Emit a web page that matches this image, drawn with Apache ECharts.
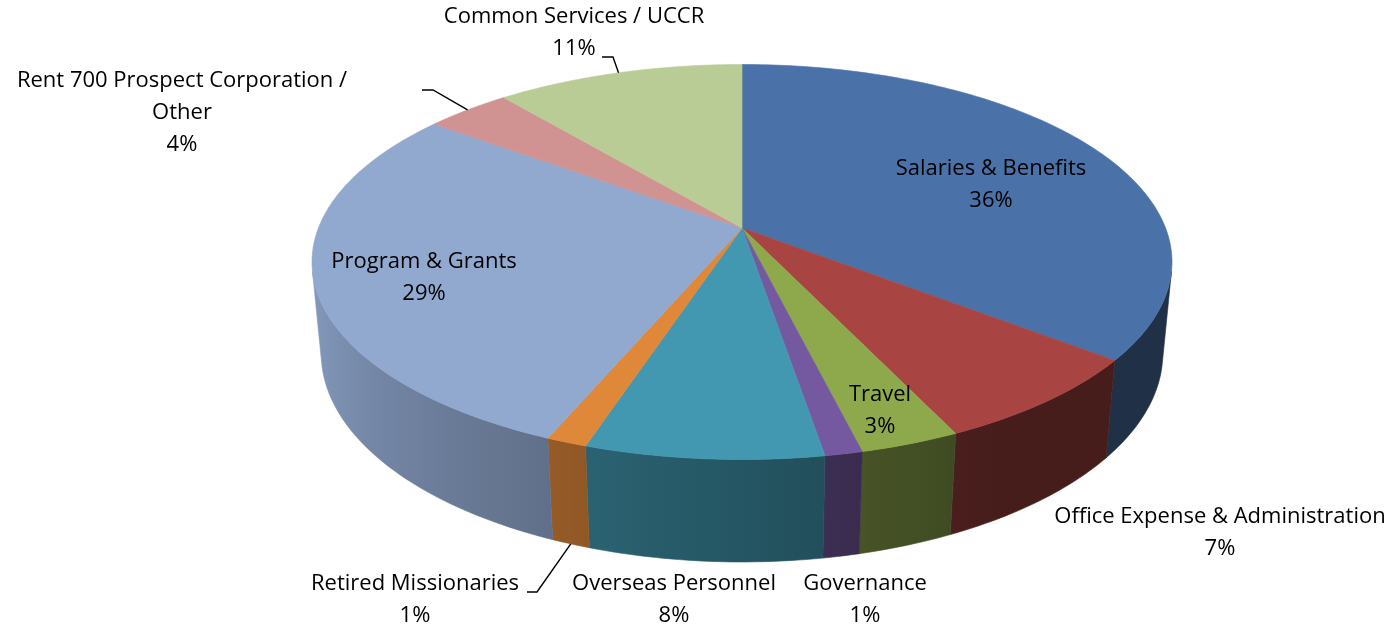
<!DOCTYPE html>
<html style="height: 100%">
<head>
<meta charset="utf-8">
<script src="https://cdn.jsdelivr.net/npm/echarts@6/dist/echarts.min.js"></script>
</head>
<body style="height: 100%; margin: 0; background: #fff">
<div id="container" style="width: 1395px; height: 631px"></div>
<script>
// data (percent of total)
var categories = ['Salaries & Benefits', 'Office Expense & Administration', 'Travel', 'Governance',
    'Overseas Personnel', 'Retired Missionaries', 'Program & Grants',
    'Rent 700 Prospect Corporation / Other', 'Common Services / UCCR'];
var values = [35.6, 7.4, 3.2, 1.2, 7.6, 1.3, 28.9, 3.8, 11.0];

var colors = ['#4a72a8', '#a84442', '#8ea84c', '#7559a0', '#4298b0', '#e0883a', '#91a8cf', '#d09392', '#bacc95'];

// label block centre, relative to pie centre; leader = points of the horizontal tick next to the text
var labelLayout = [
    { dx: 249, dy: -43 },
    { dx: 478, dy: 305 },
    { dx: 138, dy: 183 },
    { dx: 123, dy: 372 },
    { dx: -68, dy: 372 },
    { dx: -327, dy: 372, leader: [[-215, 364], [-205, 364]], leaderBottom: true },
    { dx: -318, dy: 50 },
    { dx: -560, dy: -115, wrap: true, leader: [[-320, -138], [-309, -138]] },
    { dx: -168, dy: -195, leader: [[-140, -171], [-129, -171]] }
];

// simple perspective camera for the tilted pie
var view = { tilt: 26.9 * Math.PI / 180, dist: 5.182, focal: 2195, depth: 0.2434, cx: 742, cy: 228 };

var total = values.reduce(function (a, b) { return a + b; }, 0);
var starts = [];
var acc = 0;
values.forEach(function (v) { starts.push(acc / total * Math.PI * 2); acc += v; });

function project(theta, r, h) {
    var s = Math.sin(view.tilt), c = Math.cos(view.tilt);
    var X = r * Math.sin(theta), d = r * Math.cos(theta);
    var yv = d * s + h * c;
    var zv = view.dist + d * c - h * s;
    return [view.cx + view.focal * X / zv, view.cy - view.focal * yv / zv];
}

function shade(hex, f) {
    var n = parseInt(hex.slice(1), 16);
    var r = Math.round(((n >> 16) & 255) * f), g = Math.round(((n >> 8) & 255) * f), b = Math.round((n & 255) * f);
    return 'rgb(' + r + ',' + g + ',' + b + ')';
}

function wallLight(theta) {
    var deg = theta * 180 / Math.PI;
    return 0.42 + 0.52 * Math.min(1, Math.max(0, (deg - 150) / 110));
}

// the outer wall is only seen between these angles
var visLimit = Math.acos(-1 / (view.dist * Math.cos(view.tilt)));

function renderWall(params, api) {
    var i = params.dataIndex;
    var a0 = Math.max(starts[i], visLimit);
    var a1 = Math.min(starts[i] + values[i] / total * Math.PI * 2, Math.PI * 2 - visLimit);
    if (a1 <= a0) return { type: 'group', children: [] };
    var steps = Math.max(2, Math.ceil((a1 - a0) / (Math.PI / 180)));
    var topPts = [], botPts = [];
    for (var k = 0; k <= steps; k++) {
        var t = a0 + (a1 - a0) * k / steps;
        topPts.push(project(t, 1, 0));
        botPts.unshift(project(t, 1, -view.depth));
    }
    var xa = topPts[0][0], xb = topPts[topPts.length - 1][0];
    var stops = [];
    var ns = 8;
    for (var j = 0; j <= ns; j++) {
        var tt = a0 + (a1 - a0) * j / ns;
        var px = project(tt, 1, 0)[0];
        var off = Math.abs(xb - xa) < 0.5 ? j / ns : (px - xa) / (xb - xa);
        stops.push({ offset: Math.min(1, Math.max(0, off)), color: shade(colors[i], wallLight(tt)) });
    }
    stops.sort(function (p, q) { return p.offset - q.offset; });
    var grad = { type: 'linear', x: xa, y: 0, x2: xb, y2: 0, global: true, colorStops: stops };
    return {
        type: 'polygon',
        shape: { points: topPts.concat(botPts) },
        style: { fill: grad, stroke: grad, lineWidth: 0.6 }
    };
}

function renderTop(params, api) {
    var i = params.dataIndex;
    var a0 = starts[i];
    var a1 = a0 + values[i] / total * Math.PI * 2;
    var pts = [project(0, 0, 0)];
    var steps = Math.max(2, Math.ceil((a1 - a0) / (Math.PI / 180)));
    for (var k = 0; k <= steps; k++) {
        pts.push(project(a0 + (a1 - a0) * k / steps, 1, 0));
    }
    return {
        type: 'polygon',
        shape: { points: pts },
        style: { fill: colors[i], stroke: colors[i], lineWidth: 0.6 }
    };
}

function renderLabel(params, api) {
    var i = params.dataIndex;
    var lay = labelLayout[i];
    var name = categories[i];
    if (lay.wrap) {
        var cut = name.lastIndexOf(' ');
        name = name.slice(0, cut) + '\n' + name.slice(cut + 1);
    }
    var pct = Math.round(values[i] / total * 100) + '%';
    var children = [{
        type: 'text',
        x: view.cx + lay.dx,
        y: view.cy + lay.dy,
        style: {
            text: name + '\n' + pct,
            fill: '#000',
            font: '22px "Open Sans"',
            lineHeight: 32,
            align: 'center',
            verticalAlign: 'middle'
        }
    }];
    if (lay.leader) {
        var mid = starts[i] + values[i] / total * Math.PI;
        var end = project(mid, 1.0, lay.leaderBottom ? -view.depth : 0);
        var pts = lay.leader.map(function (p) { return [view.cx + p[0], view.cy + p[1]]; });
        pts.push(end);
        children.push({
            type: 'polyline',
            shape: { points: pts },
            style: { stroke: '#000', lineWidth: 1.4, fill: null }
        });
    }
    return { type: 'group', children: children };
}

var seriesData = values.map(function (v, i) { return { name: categories[i], value: v }; });

var myChart = echarts.init(document.getElementById('container'));
var option = {
    animation: false,
    series: [
        { type: 'custom', coordinateSystem: 'none', renderItem: renderWall, data: seriesData, z: 1 },
        { type: 'custom', coordinateSystem: 'none', renderItem: renderTop, data: seriesData, z: 2 },
        { type: 'custom', coordinateSystem: 'none', renderItem: renderLabel, data: seriesData, z: 3 }
    ]
};
myChart.setOption(option);
</script>
</body>
</html>
